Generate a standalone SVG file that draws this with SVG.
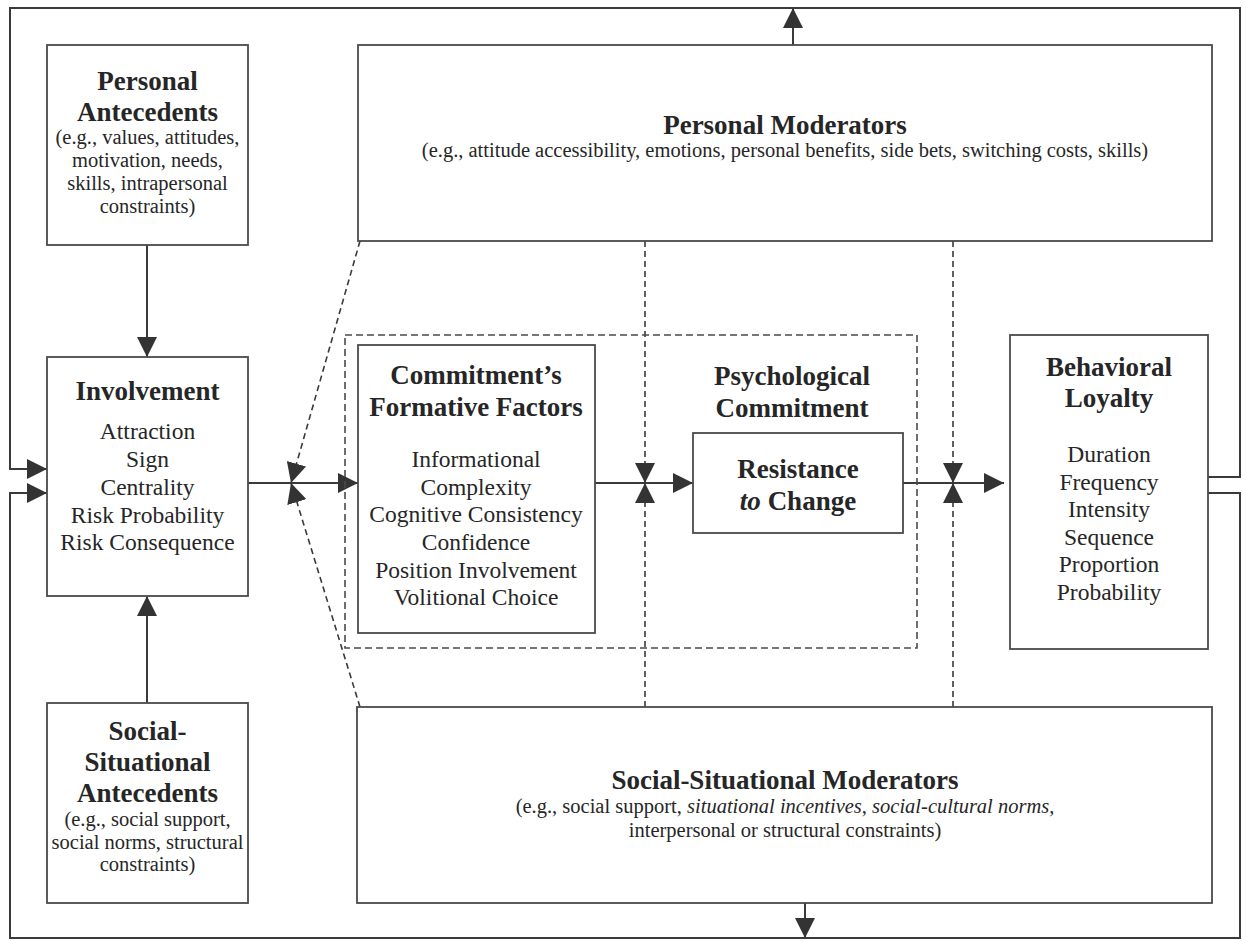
<svg xmlns="http://www.w3.org/2000/svg" width="1246" height="941" viewBox="0 0 1246 941">
  <style>
    .box { fill: #ffffff; stroke: #4a4a4a; stroke-width: 1.8; }
    .dbox { fill: none; stroke: #4a4a4a; stroke-width: 1.6; stroke-dasharray: 7 4; }
    .ln { fill: none; stroke: #3a3a3a; stroke-width: 2; }
    .dl { fill: none; stroke: #3a3a3a; stroke-width: 1.6; stroke-dasharray: 6 4; }
    text { font-family: "Liberation Serif", "Times New Roman", serif; fill: #262626; text-anchor: middle; }
    .t { font-size: 27px; font-weight: bold; }
    .i { font-size: 23.5px; }
    .s { font-size: 20.5px; }
    .it { font-style: italic; }
  </style>
  <defs>
    <marker id="ah" viewBox="0 0 20 20" markerUnits="userSpaceOnUse" markerWidth="20" markerHeight="20" refX="20" refY="10" orient="auto">
      <path d="M0,0 L20,10 L0,20 Z" fill="#333333"/>
    </marker>
  </defs>

  <!-- connectors -->
  <g id="connectors">
    <!-- feedback loops around the frame -->
    <path class="ln" d="M1208,477 H1240 V8 H10 V469 H47" marker-end="url(#ah)"/>
    <path class="ln" d="M1208,493 H1240 V938 H10 V493 H47" marker-end="url(#ah)"/>
    <!-- antecedents into involvement -->
    <line class="ln" x1="147" y1="245" x2="147" y2="357" marker-end="url(#ah)"/>
    <line class="ln" x1="147" y1="703" x2="147" y2="596" marker-end="url(#ah)"/>
    <!-- moderators out to the frame -->
    <line class="ln" x1="793" y1="45" x2="793" y2="8" marker-end="url(#ah)"/>
    <line class="ln" x1="805" y1="903" x2="805" y2="938" marker-end="url(#ah)"/>
    <!-- main chain -->
    <line class="ln" x1="248" y1="483" x2="358" y2="483" marker-end="url(#ah)"/>
    <line class="ln" x1="595" y1="483" x2="693" y2="483" marker-end="url(#ah)"/>
    <line class="ln" x1="903" y1="483" x2="1004" y2="483" marker-end="url(#ah)"/>
    <!-- moderating links (dashed) -->
    <line class="dl" x1="360" y1="241" x2="291" y2="483" marker-end="url(#ah)"/>
    <line class="dl" x1="360" y1="707" x2="291" y2="483" marker-end="url(#ah)"/>
    <line class="dl" x1="645" y1="241" x2="645" y2="483" marker-end="url(#ah)"/>
    <line class="dl" x1="645" y1="707" x2="645" y2="483" marker-end="url(#ah)"/>
    <line class="dl" x1="953" y1="241" x2="953" y2="483" marker-end="url(#ah)"/>
    <line class="dl" x1="953" y1="707" x2="953" y2="483" marker-end="url(#ah)"/>
  </g>

  <g id="personal-antecedents">
    <rect class="box" x="47" y="45" width="201" height="200"/>
    <text class="t" x="147.5" y="90">Personal</text>
    <text class="t" x="147.5" y="121">Antecedents</text>
    <text class="s" x="147.5" y="144">(e.g., values, attitudes,</text>
    <text class="s" x="147.5" y="167">motivation, needs,</text>
    <text class="s" x="147.5" y="190">skills, intrapersonal</text>
    <text class="s" x="147.5" y="213">constraints)</text>
  </g>

  <g id="involvement">
    <rect class="box" x="47" y="357" width="201" height="239"/>
    <text class="t" x="147.5" y="400">Involvement</text>
    <text class="i" x="147.5" y="439">Attraction</text>
    <text class="i" x="147.5" y="467">Sign</text>
    <text class="i" x="147.5" y="495">Centrality</text>
    <text class="i" x="147.5" y="523">Risk Probability</text>
    <text class="i" x="147.5" y="550">Risk Consequence</text>
  </g>

  <g id="social-situational-antecedents">
    <rect class="box" x="47" y="703" width="201" height="200"/>
    <text class="t" x="147.5" y="740">Social-</text>
    <text class="t" x="147.5" y="771">Situational</text>
    <text class="t" x="147.5" y="802">Antecedents</text>
    <text class="s" x="147.5" y="826">(e.g., social support,</text>
    <text class="s" x="147.5" y="849">social norms, structural</text>
    <text class="s" x="147.5" y="871">constraints)</text>
  </g>

  <g id="personal-moderators">
    <rect class="box" x="358" y="45" width="854" height="196"/>
    <text class="t" x="785" y="134">Personal Moderators</text>
    <text class="s" x="785" y="157">(e.g., attitude accessibility, emotions, personal benefits, side bets, switching costs, skills)</text>
  </g>

  <g id="psychological-commitment">
    <rect class="dbox" x="345" y="335" width="572" height="313"/>
    <text class="t" x="792" y="385">Psychological</text>
    <text class="t" x="792" y="417">Commitment</text>
  </g>

  <g id="formative-factors">
    <rect class="box" x="358" y="345" width="237" height="288"/>
    <text class="t" x="476" y="384">Commitment’s</text>
    <text class="t" x="476" y="416">Formative Factors</text>
    <text class="i" x="476" y="467">Informational</text>
    <text class="i" x="476" y="495">Complexity</text>
    <text class="i" x="476" y="522">Cognitive Consistency</text>
    <text class="i" x="476" y="550">Confidence</text>
    <text class="i" x="476" y="578">Position Involvement</text>
    <text class="i" x="476" y="605">Volitional Choice</text>
  </g>

  <g id="resistance-to-change">
    <rect class="box" x="693" y="433" width="210" height="100"/>
    <text class="t" x="798" y="478">Resistance</text>
    <text class="t" x="798" y="510"><tspan class="it">to</tspan> Change</text>
  </g>

  <g id="behavioral-loyalty">
    <rect class="box" x="1010" y="335" width="198" height="314"/>
    <text class="t" x="1109" y="376">Behavioral</text>
    <text class="t" x="1109" y="407">Loyalty</text>
    <text class="i" x="1109" y="462">Duration</text>
    <text class="i" x="1109" y="489.5">Frequency</text>
    <text class="i" x="1109" y="517">Intensity</text>
    <text class="i" x="1109" y="544.5">Sequence</text>
    <text class="i" x="1109" y="572">Proportion</text>
    <text class="i" x="1109" y="600">Probability</text>
  </g>

  <g id="social-situational-moderators">
    <rect class="box" x="357" y="707" width="855" height="196"/>
    <text class="t" x="785" y="789">Social-Situational Moderators</text>
    <text class="s" x="785" y="813">(e.g., social support, <tspan class="it">situational incentives</tspan>, <tspan class="it">social-cultural norms</tspan>,</text>
    <text class="s" x="785" y="837">interpersonal or structural constraints)</text>
  </g>
</svg>
